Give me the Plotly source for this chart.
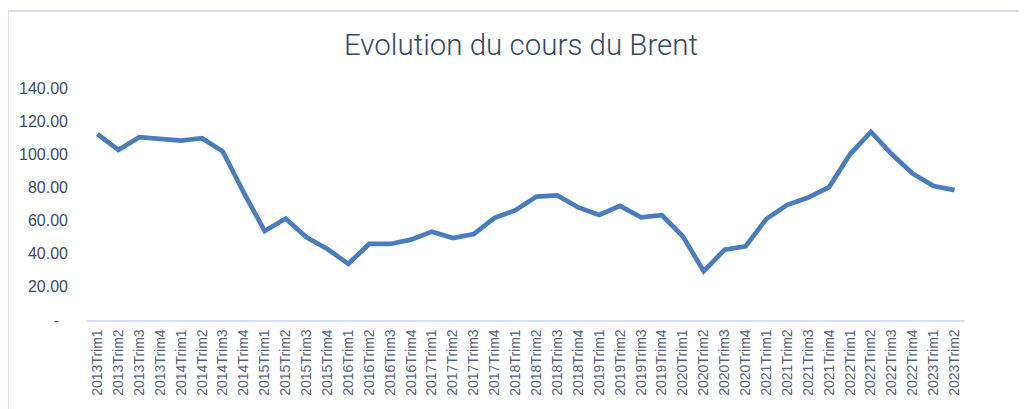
import plotly.graph_objects as go

years = list(range(2013, 2024))
categories = [f"{y}Trim{q}" for y in years for q in range(1, 5)][:42]

brent = [112.1, 102.6, 110.3, 109.5, 108.3, 109.7, 101.6, 76.8,
         53.7, 61.2, 49.9, 42.8, 33.9, 45.9, 45.9, 48.5,
         53.3, 49.5, 51.9, 61.6, 66.3, 74.5, 75.2, 67.9,
         63.4, 68.9, 62.0, 63.2, 50.5, 29.5, 42.4, 44.4,
         61.0, 69.5, 73.9, 80.2, 100.0, 113.5, 100.0, 88.3,
         80.8, 78.4]

y_tickvals = [0, 20, 40, 60, 80, 100, 120, 140]
y_ticktext = ["-\u00a0\u00a0", "20.00", "40.00", "60.00", "80.00", "100.00", "120.00", "140.00"]

title_text = "Evolution du cours du Brent"

# figure is placed with an 8px body margin in the page
W, H = 1019, 401
L, R, T, B = 79, 62, 80, 89
PW, PH = W - L - R, H - T - B

fig = go.Figure()
fig.add_trace(go.Scatter(
    x=categories, y=brent, mode="lines",
    line=dict(color="#4a7dbf", width=4.7),
    showlegend=False,
))

bx = (0 - L) / PW
by = (H - B - 3) / PH

fig.update_layout(
    width=W, height=H,
    margin=dict(l=L, r=R, t=T, b=B, autoexpand=False),
    paper_bgcolor="white", plot_bgcolor="white",
    title=dict(text=title_text, x=513 / W, xref="container", xanchor="center",
               y=1 - 37 / H, yref="container", yanchor="middle",
               font=dict(family="Roboto", size=29.5, weight=300, color="#34495e")),
    xaxis=dict(
        type="category", range=[-0.5, len(categories) - 0.5],
        tickangle=-90, showgrid=False, zeroline=False,
        showline=True, linecolor="#d3e0f1", linewidth=1.5,
        ticks="", tickfont=dict(family="Liberation Sans", size=14, color="#56627a"),
        ticklabelstandoff=2,
    ),
    yaxis=dict(
        range=[0, 140], tickvals=y_tickvals, ticktext=y_ticktext,
        showgrid=False, zeroline=False, showline=False, ticks="",
        tickfont=dict(family="Liberation Sans", size=16, color="#3e4b5e"),
        ticklabelstandoff=18,
    ),
    shapes=[
        dict(type="line", xref="paper", yref="paper", x0=bx, x1=bx,
             y0=by, y1=-0.6, line=dict(color="#d6e2f3", width=2)),
        dict(type="line", xref="paper", yref="paper", x0=bx, x1=1.2,
             y0=by, y1=by, line=dict(color="#d6e2f3", width=2)),
    ],
)

fig.write_html("out.html")
